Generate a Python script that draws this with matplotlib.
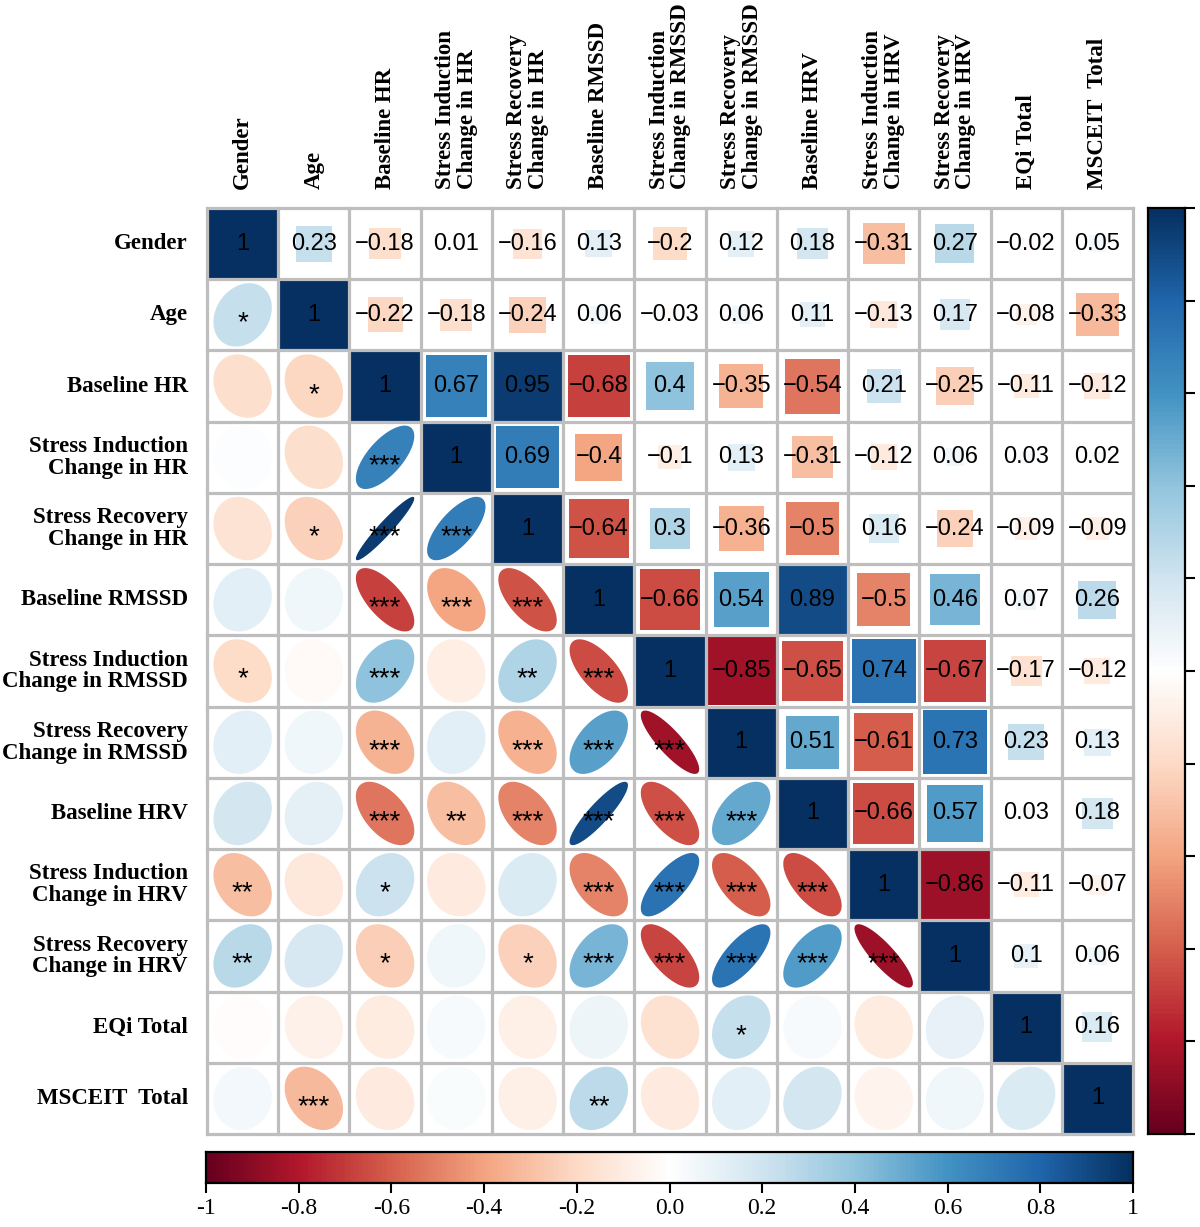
import numpy as np
import matplotlib
matplotlib.use("Agg")
import matplotlib.pyplot as plt
from matplotlib.colors import LinearSegmentedColormap, Normalize
from matplotlib.patches import Rectangle, Polygon

labels = ["Gender", "Age", "Baseline HR",
          "Stress Induction\nChange in HR", "Stress Recovery\nChange in HR",
          "Baseline RMSSD",
          "Stress Induction\nChange in RMSSD", "Stress Recovery\nChange in RMSSD",
          "Baseline HRV",
          "Stress Induction\nChange in HRV", "Stress Recovery\nChange in HRV",
          "EQi Total", "MSCEIT  Total"]

# correlations right of the diagonal, row by row
r_rows = [
    [0.23, -0.18, 0.01, -0.16, 0.13, -0.2, 0.12, 0.18, -0.31, 0.27, -0.02, 0.05],
    [-0.22, -0.18, -0.24, 0.06, -0.03, 0.06, 0.11, -0.13, 0.17, -0.08, -0.33],
    [0.67, 0.95, -0.68, 0.4, -0.35, -0.54, 0.21, -0.25, -0.11, -0.12],
    [0.69, -0.4, -0.1, 0.13, -0.31, -0.12, 0.06, 0.03, 0.02],
    [-0.64, 0.3, -0.36, -0.5, 0.16, -0.24, -0.09, -0.09],
    [-0.66, 0.54, 0.89, -0.5, 0.46, 0.07, 0.26],
    [-0.85, -0.65, 0.74, -0.67, -0.17, -0.12],
    [0.51, -0.61, 0.73, 0.23, 0.13],
    [-0.66, 0.57, 0.03, 0.18],
    [-0.86, -0.11, -0.07],
    [0.1, 0.06],
    [0.16],
]

# significance stars left of the diagonal, row by row
stars = [
    [],
    ["*"],
    ["", "*"],
    ["", "", "***"],
    ["", "*", "***", "***"],
    ["", "", "***", "***", "***"],
    ["*", "", "***", "", "**", "***"],
    ["", "", "***", "", "***", "***", "***"],
    ["", "", "***", "**", "***", "***", "***", "***"],
    ["**", "", "*", "", "", "***", "***", "***", "***"],
    ["**", "", "*", "", "*", "***", "***", "***", "***", "***"],
    ["", "", "", "", "", "", "", "*", "", "", ""],
    ["", "***", "", "", "", "**", "", "", "", "", "", ""],
]

cbar_ticks = [-1, -0.8, -0.6, -0.4, -0.2, 0.0, 0.2, 0.4, 0.6, 0.8, 1]
cbar_labels = ["-1", "-0.8", "-0.6", "-0.4", "-0.2", "0.0", "0.2", "0.4", "0.6", "0.8", "1"]

rdbu = ["#67001F", "#B2182B", "#D6604D", "#F4A582", "#FDDBC7", "#FFFFFF",
        "#D1E5F0", "#92C5DE", "#4393C3", "#2166AC", "#053061"]

N = len(labels)
R = np.eye(N)
for i, row in enumerate(r_rows):
    for k, v in enumerate(row):
        j = i + 1 + k
        R[i, j] = v
        R[j, i] = v

cmap = LinearSegmentedColormap.from_list("corr", rdbu, N=200)
norm = Normalize(-1, 1)

W, H = 1200, 1227
fig = plt.figure(figsize=(W / 100, H / 100), dpi=100)
ax = fig.add_axes([207 / W, 1 - 1134 / H, 926 / W, 926 / H])
ax.set_xlim(0, N)
ax.set_ylim(N, 0)
ax.axis("off")

serif = "Liberation Serif"
sans = "Liberation Sans"
t = np.linspace(0, 2 * np.pi, 120)

for i in range(N):
    for j in range(N):
        r = R[i, j]
        col = cmap(norm(r))
        cx, cy = j + 0.5, i + 0.5
        if i == j:
            ax.add_patch(Rectangle((j, i), 1, 1, facecolor=col, lw=0))
            ax.text(cx, cy, "1", ha="center", va="center", fontsize=17,
                    family=sans, color="black")
        elif j > i:
            s = min(1.0, 1.05 * np.sqrt(abs(r)))
            ax.add_patch(Rectangle((cx - s / 2, cy - s / 2), s, s, facecolor=col, lw=0))
            txt = f"{r:g}".replace("-", "\u2212")
            ax.text(cx, cy, txt, ha="center", va="center", fontsize=17,
                    family=sans, color="black")
        else:
            d = np.arccos(np.clip(r, -1, 1))
            ex = np.cos(t + d / 2) * 0.41
            ey = np.cos(t - d / 2) * 0.445
            ax.add_patch(Polygon(np.column_stack([cx + ex, cy - ey]), closed=True,
                                 facecolor=col, lw=0))
            st = stars[i][j]
            if st:
                ax.text(cx, cy + 0.22, st, ha="center", va="baseline", fontsize=20,
                        family=sans, color="black")

# grid
for k in range(N + 1):
    ax.plot([k, k], [0, N], color="#BEBEBE", lw=2.3, zorder=5, clip_on=False,
            solid_capstyle="projecting")
    ax.plot([0, N], [k, k], color="#BEBEBE", lw=2.3, zorder=5, clip_on=False,
            solid_capstyle="projecting")

for i, lab in enumerate(labels):
    ax.text(-0.27, i + 0.5, lab, ha="right", va="center", multialignment="right",
            fontsize=16.5, family=serif, fontweight="bold", linespacing=1.05,
            clip_on=False)
    ax.text(i + 0.5, -0.27, lab, ha="center", va="bottom", multialignment="left",
            rotation=90, fontsize=16.5, family=serif, fontweight="bold",
            linespacing=1.05, clip_on=False)

grad = np.linspace(-1, 1, 400)

# right colour bar
cax = fig.add_axes([1148 / W, 1 - 1134 / H, 37 / W, 926 / H])
cax.imshow(grad.reshape(-1, 1), aspect="auto", cmap=cmap, norm=norm,
           origin="lower", extent=[0, 1, -1, 1])
cax.set_xticks([])
cax.yaxis.tick_right()
cax.set_yticks(cbar_ticks)
cax.set_yticklabels([])
cax.tick_params(axis="y", direction="out", length=7, width=1.5)
for sp in cax.spines.values():
    sp.set_linewidth(1.6)

# bottom colour bar
bax = fig.add_axes([206 / W, 1 - 1183 / H, 927 / W, 31 / H])
bax.imshow(grad.reshape(1, -1), aspect="auto", cmap=cmap, norm=norm,
           origin="lower", extent=[-1, 1, 0, 1])
bax.set_yticks([])
bax.set_xticks(cbar_ticks)
bax.set_xticklabels(cbar_labels, family=serif, fontsize=17)
bax.tick_params(axis="x", direction="out", length=7, width=1.5, pad=4)
for sp in bax.spines.values():
    sp.set_linewidth(1.6)

fig.savefig("out.png", dpi=100)
